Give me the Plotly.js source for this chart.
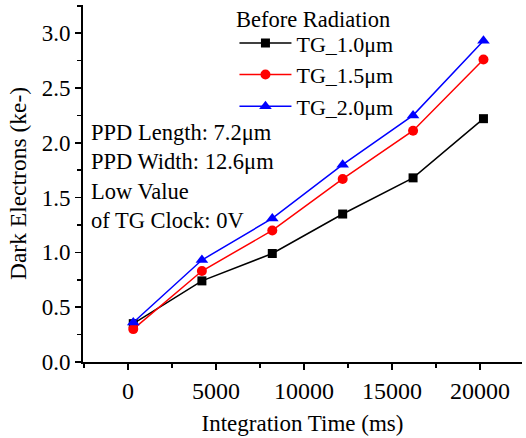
<!DOCTYPE html>
<html>
<head>
<meta charset="utf-8">
<script src="https://cdn.plot.ly/plotly-3.0.1.min.js"></script>
<style>
  html, body { margin: 0; padding: 0; background: #fff; }
  #chart { width: 526px; height: 438px; }
</style>
</head>
<body>
<div id="chart"></div>
<script>
// Integration time (ms) of each measurement
const integrationTime = [300, 4200, 8200, 12200, 16200, 20200];

// Dark electrons (ke-) for each transfer-gate length
const tg10 = [0.35, 0.74, 0.99, 1.35, 1.68, 2.22];
const tg15 = [0.30, 0.83, 1.20, 1.67, 2.11, 2.76];
const tg20 = [0.36, 0.93, 1.31, 1.80, 2.25, 2.93];

const seriesNames = ['TG_1.0\u03bcm', 'TG_1.5\u03bcm', 'TG_2.0\u03bcm'];
const legendHeading = 'Before Radiation';
const infoLines = ['PPD Length: 7.2\u03bcm', 'PPD Width: 12.6\u03bcm', 'Low Value', 'of TG Clock: 0V'];

const FONT = 'Liberation Serif, Times New Roman, serif';

function series(y, name, color, symbol, size) {
  return {
    x: integrationTime, y: y, name: name,
    type: 'scatter', mode: 'lines+markers',
    line: { color: color, width: 1.5 },
    marker: { color: color, symbol: symbol, size: size }
  };
}

const data = [
  series(tg10, seriesNames[0], '#000000', 'square', 9),
  series(tg15, seriesNames[1], '#ff0000', 'circle', 10),
  series(tg20, seriesNames[2], '#0000ff', 'triangle-up', 11)
];

const axisCommon = {
  showgrid: false, zeroline: false,
  showline: true, linecolor: '#000', linewidth: 2,
  ticks: 'outside', ticklen: 6, tickwidth: 1.5, tickcolor: '#000'
};

const layout = {
  width: 526, height: 438,
  margin: { l: 83, r: 4, t: 5, b: 76 },
  paper_bgcolor: '#fff', plot_bgcolor: '#fff',
  font: { family: FONT, size: 22, color: '#000' },
  xaxis: Object.assign({}, axisCommon, {
    range: [-2557, 22390],
    tick0: 0, dtick: 5000, tickformat: 'd',
    tickfont: { family: FONT, size: 24, color: '#000' },
    minor: { dtick: 2500, tick0: 0, ticks: 'outside', ticklen: 4, tickwidth: 1.5, tickcolor: '#000' },
    title: { text: 'Integration Time (ms)', font: { family: FONT, size: 23 }, standoff: 12 }
  }),
  yaxis: Object.assign({}, axisCommon, {
    range: [0, 3.257],
    tick0: 0, dtick: 0.5, tickformat: '.1f',
    tickfont: { family: FONT, size: 23, color: '#000' },
    minor: { dtick: 0.25, tick0: 0, ticks: 'outside', ticklen: 4, tickwidth: 1.5, tickcolor: '#000' },
    title: { text: 'Dark Electrons (ke-)', font: { family: FONT, size: 23.5 }, standoff: 8 }
  }),
  legend: {
    x: 0.345, y: 0.952, xanchor: 'left', yanchor: 'top',
    bgcolor: 'rgba(0,0,0,0)', borderwidth: 0,
    itemwidth: 52,
    font: { family: FONT, size: 22, color: '#000' }
  },
  annotations: [
    {
      xref: 'paper', yref: 'paper',
      x: 0.345, y: 0.958, xanchor: 'left', yanchor: 'middle',
      showarrow: false, text: legendHeading,
      font: { family: FONT, size: 22.5, color: '#000' }
    },
    {
      xref: 'paper', yref: 'paper',
      x: 0.014, y: 0.519, xanchor: 'left', yanchor: 'middle',
      align: 'left', showarrow: false,
      text: infoLines.join('<br>'),
      font: { family: FONT, size: 22.5, color: '#000' }
    }
  ]
};

Plotly.newPlot('chart', data, layout, { displayModeBar: false, staticPlot: true });
</script>
</body>
</html>
